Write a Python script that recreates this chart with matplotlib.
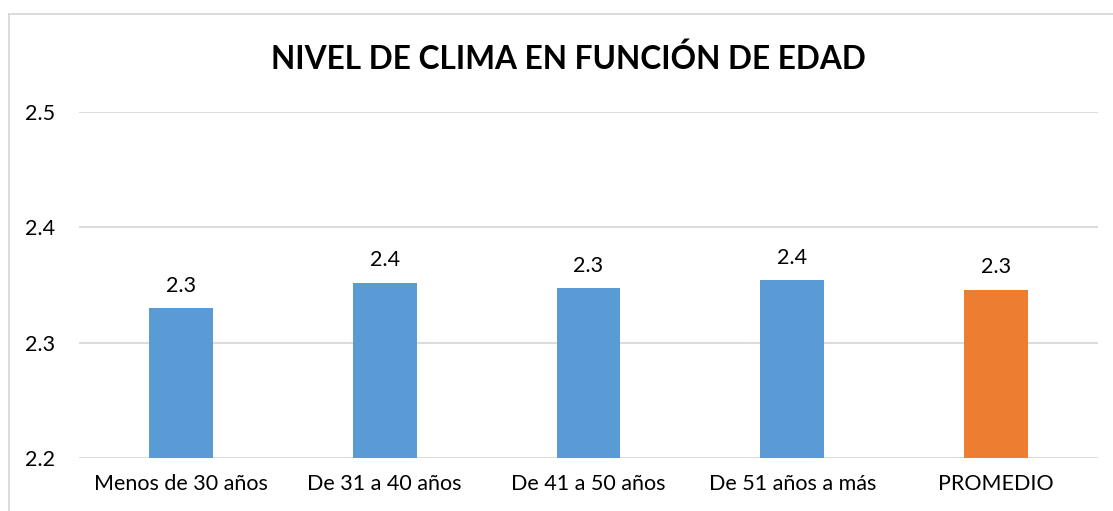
import matplotlib
matplotlib.use("Agg")
import matplotlib.pyplot as plt
from matplotlib.lines import Line2D

# datos del grafico
categorias = ["Menos de 30 años", "De 31 a 40 años", "De 41 a 50 años",
              "De 51 años a más", "PROMEDIO"]
valores = [2.330, 2.352, 2.347, 2.354, 2.346]
colores = ["#5B9BD5", "#5B9BD5", "#5B9BD5", "#5B9BD5", "#ED7D31"]
y_ticks = [2.2, 2.3, 2.4, 2.5]

plt.rcParams["font.family"] = ["Lato", "DejaVu Sans"]

fig = plt.figure(figsize=(11.13, 5.11), dpi=100)
ax = fig.add_axes([0.071, 0.1043, 0.9155, 0.6759])

x = range(len(categorias))
bars = ax.bar(x, valores, width=0.3125, color=colores, zorder=3)

for b, v in zip(bars, valores):
    ax.annotate("{:.1f}".format(v), (b.get_x() + b.get_width() / 2, v),
                xytext=(0, 9), textcoords="offset points",
                ha="center", va="bottom", fontsize=15.5, color="#000000")

ax.set_ylim(2.2, 2.5)
ax.set_xlim(-0.5, len(categorias) - 0.5)
ax.set_yticks(y_ticks)
ax.set_yticklabels(["{:.1f}".format(t) for t in y_ticks])
ax.set_xticks(list(x))
ax.set_xticklabels(categorias)
ax.tick_params(axis="both", length=0, labelsize=15.5, colors="#000000")
ax.tick_params(axis="y", pad=17)
ax.tick_params(axis="x", pad=12)

ax.grid(axis="y", color="#d9d9d9", linewidth=1.3, zorder=0)
for s in ax.spines.values():
    s.set_visible(False)

fig.text(0.511, 0.886, "NIVEL DE CLIMA EN FUNCIÓN DE EDAD",
         ha="center", va="center", fontsize=22.8, fontweight="bold")

# marco del grafico (solo se ve arriba e izquierda)
fl = 9 / 1113
ft = 1 - 14 / 511
fig.add_artist(Line2D([fl, fl], [0, ft], color="#d9d9d9", linewidth=1.3,
                      transform=fig.transFigure))
fig.add_artist(Line2D([fl, 1], [ft, ft], color="#d9d9d9", linewidth=1.3,
                      transform=fig.transFigure))

fig.savefig("out.png", dpi=100)
